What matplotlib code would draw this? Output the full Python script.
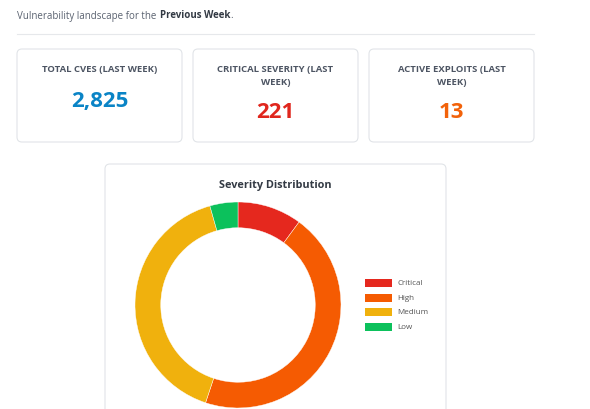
import matplotlib
matplotlib.use("Agg")
import matplotlib.pyplot as plt
from matplotlib.patches import FancyBboxPatch, Rectangle

categories = ["Critical", "High", "Medium", "Low"]
shares = [10.1, 45.0, 40.5, 4.4]
colors = ["#e5281e", "#f55b02", "#f0b10d", "#0cc15c"]
card_titles = ["TOTAL CVES (LAST WEEK)", "CRITICAL SEVERITY (LAST\nWEEK)", "ACTIVE EXPLOITS (LAST\nWEEK)"]
card_values = ["2,825", "221", "13"]
card_colors = ["#0a84c6", "#e0261d", "#f2620a"]

plt.rcParams['font.family'] = ['Open Sans', 'DejaVu Sans']
fig = plt.figure(figsize=(5.9, 4.1), dpi=100)
bg = fig.add_axes([0, 0, 1, 1])
bg.set_xlim(0, 590); bg.set_ylim(410, 0); bg.axis("off")

t1 = bg.text(17, 16, "Vulnerability landscape for the", fontsize=7, color="#5a6270", va="center")
t2 = bg.annotate("Previous Week", xy=(1, 0.5), xycoords=t1, xytext=(2.5, 0), textcoords="offset points",
                 fontsize=7, color="#333a44", va="center", fontweight="bold")
bg.annotate(".", xy=(1, 0.5), xycoords=t2, fontsize=7, color="#5a6270", va="center")
bg.plot([17, 534], [35, 35], color="#e6e8eb", lw=0.8)

xs = [17, 193, 369]
for x, t, v, c in zip(xs, card_titles, card_values, card_colors):
    bg.add_patch(FancyBboxPatch((x, 50), 165, 93, boxstyle="round,pad=0,rounding_size=5",
                                fc="white", ec="#e1e4e8", lw=0.8))
    two = "\n" in t
    bg.text(x + 82.5, 76 if two else 70, t, fontsize=6.8, color="#4d5563", ha="center", va="center",
            fontweight="bold", linespacing=1.45)
    bg.text(x + 82.5, 113 if two else 101, v, fontsize=16, color=c, ha="center",
            va="center", fontweight="bold")

bg.add_patch(FancyBboxPatch((105, 165), 341, 260, boxstyle="round,pad=0,rounding_size=5",
                            fc="white", ec="#e1e4e8", lw=0.8))
bg.text(275.5, 186, "Severity Distribution", fontsize=7.8, color="#333a44", ha="center",
        va="center", fontweight="bold")

for i, (cat, col) in enumerate(zip(categories, colors)):
    y = 284 + i * 14.5
    bg.add_patch(Rectangle((365, y - 4), 27, 8, fc=col, ec="none"))
    bg.text(397, y, cat, fontsize=5.8, color="#555555", va="center")

ax = fig.add_axes([135 / 590, 1 / 410, 206 / 590, 206 / 410])
ax.pie(shares, colors=colors, startangle=90, counterclock=False, radius=1,
       wedgeprops=dict(width=0.25, edgecolor="white", linewidth=0.3))
ax.set_xlim(-1, 1); ax.set_ylim(-1, 1); ax.set_aspect("equal"); ax.axis("off")

fig.savefig("out.png", dpi=100)
